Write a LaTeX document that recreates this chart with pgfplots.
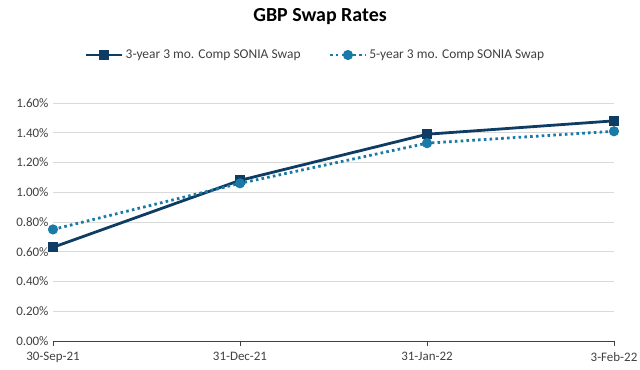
\documentclass[border=0pt]{standalone}
\usepackage{pgfplots}
\pgfplotsset{compat=1.18}
\usepackage{fontspec}
\setmainfont{Carlito}
\definecolor{navy}{RGB}{14,60,98}
\definecolor{teal}{RGB}{24,122,166}
\definecolor{gridc}{RGB}{217,217,217}
\definecolor{txt}{RGB}{64,64,64}
\begin{document}
\begin{tikzpicture}[x=1bp,y=1bp]
\path[use as bounding box] (-53,-28) rectangle (587,341);
\begin{axis}[
  at={(0,0)}, anchor=origin,
  scale only axis, width=561bp, height=238bp,
  xmin=0, xmax=3, ymin=0, ymax=1.6,
  xtick={0,1,2,3},
  xticklabels={30-Sep-21,31-Dec-21,31-Jan-22,3-Feb-22},
  ytick={0,0.2,0.4,0.6,0.8,1.0,1.2,1.4,1.6},
  yticklabels={0.00\%,0.20\%,0.40\%,0.60\%,0.80\%,1.00\%,1.20\%,1.40\%,1.60\%},
  ymajorgrids, grid style={gridc, line width=0.8bp},
  axis y line*=left, y axis line style={draw=none},
  axis x line*=bottom, x axis line style={txt, line width=0.8bp},
  xtick style={txt, line width=0.8bp}, xtick align=outside,
  ytick style={draw=none},
  major tick length=5bp,
  tick label style={font=\fontsize{13}{15}\selectfont, text=txt},
  yticklabel style={xshift=-1bp},
  xticklabel style={yshift=-3bp},
  clip=false,
  legend columns=2,
  legend style={at={(0.468,1.2017)}, anchor=center, draw=none, fill=none,
    font=\fontsize{13.5}{15}\selectfont, text=txt,
    /tikz/every even column/.append style={column sep=26bp}},
  legend cell align=left,
  legend image code/.code={\draw[mark repeat=2,mark phase=2] plot coordinates {(0bp,0bp) (18bp,0bp) (36bp,0bp)};},
]
\addplot[navy, line width=2.8bp, mark=square*, mark size=3.6bp, mark options={solid}]
  coordinates {(0,0.63) (1,1.08) (2,1.39) (3,1.48)};
\addlegendentry{3-year 3 mo. Comp SONIA Swap}
\addplot[teal, line width=2.8bp, dash pattern=on 2.6bp off 3.2bp, mark=*, mark size=3.6bp, mark options={solid}]
  coordinates {(0,0.75) (1,1.06) (2,1.33) (3,1.41)};
\addlegendentry{5-year 3 mo. Comp SONIA Swap}
\end{axis}
\node[font=\fontsize{20}{22}\selectfont\bfseries, text=black] at (267,324) {GBP Swap Rates};
\end{tikzpicture}
\end{document}
